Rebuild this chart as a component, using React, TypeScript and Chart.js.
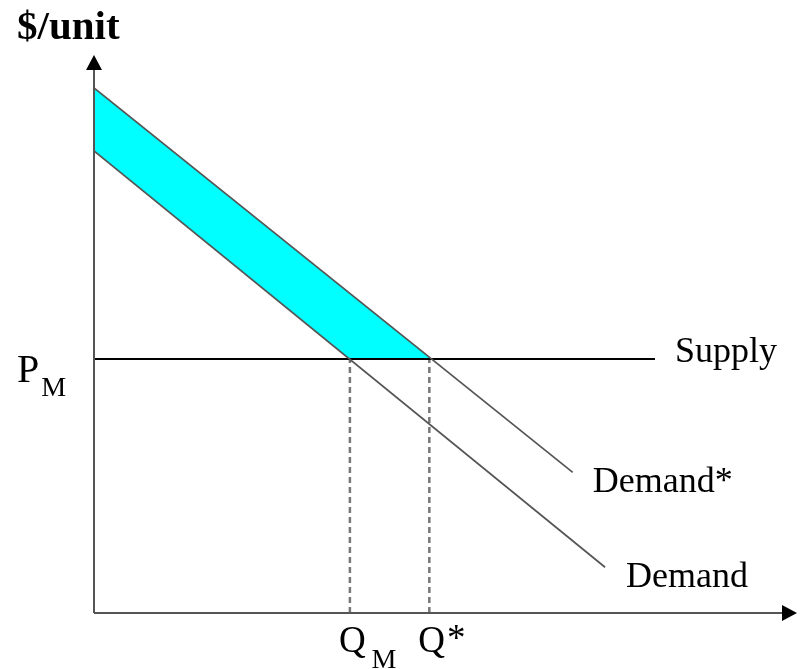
import React, { useEffect, useRef } from "react";
import { Chart, registerables } from "chart.js";

Chart.register(...registerables);

// Quantities (x) and prices (y) in chart units
const demandStarX = [0, 68.1];
const demandStarY = [94.1, 25.2];
const demandX = [0, 72.7];
const demandY = [82.8, 8.2];
const supplyX = [0, 79.8];
const supplyPrice = 45.5;
const qM = 36.4;
const qStar = 47.7;
const axisMaxX = 100;
const axisMaxY = 100;

const yAxisTitle = "$/unit";
const lineLabels = ["Supply", "Demand*", "Demand"];
const priceLabel = ["P", "M"];
const qLabels = [["Q", "M"], ["Q", "*"]];

const SERIF = '"Liberation Serif", "Times New Roman", serif';

const toPts = (xs: number[], ys: number[]) => xs.map((x, i) => ({ x, y: ys[i] }));

export default function App() {
  const ref = useRef<HTMLCanvasElement | null>(null);
  useEffect(() => {
    if (!ref.current) return;
    const drawPlugin = {
      id: "econ",
      beforeDatasetsDraw(chart: any) {
        const ctx = chart.ctx;
        const xs = chart.scales.x;
        const ys = chart.scales.y;
        const px = (v: number) => xs.getPixelForValue(v);
        const py = (v: number) => ys.getPixelForValue(v);
        // cyan area between demand curves above supply price
        const slopeS = (demandStarY[1] - demandStarY[0]) / (demandStarX[1] - demandStarX[0]);
        const yStarAtQ = demandStarY[0] + slopeS * qStar;
        ctx.save();
        ctx.fillStyle = "#00FFFF";
        ctx.beginPath();
        ctx.moveTo(px(0), py(demandStarY[0]));
        ctx.lineTo(px(qStar), py(yStarAtQ));
        ctx.lineTo(px(qStar), py(supplyPrice));
        ctx.lineTo(px(qM), py(supplyPrice));
        ctx.lineTo(px(0), py(demandY[0]));
        ctx.closePath();
        ctx.fill();
        ctx.restore();
      },
      afterDatasetsDraw(chart: any) {
        const ctx = chart.ctx;
        const xs = chart.scales.x;
        const ys = chart.scales.y;
        const px = (v: number) => xs.getPixelForValue(v);
        const py = (v: number) => ys.getPixelForValue(v);
        const x0 = px(0), y0 = py(0), xTop = px(axisMaxX), yTop = py(axisMaxY);
        ctx.save();
        // axes
        ctx.strokeStyle = "#555";
        ctx.lineWidth = 2;
        ctx.beginPath();
        ctx.moveTo(x0, y0);
        ctx.lineTo(x0, yTop + 12);
        ctx.moveTo(x0, y0);
        ctx.lineTo(xTop - 12, y0);
        ctx.stroke();
        ctx.fillStyle = "#000";
        ctx.beginPath();
        ctx.moveTo(x0, yTop);
        ctx.lineTo(x0 - 8, yTop + 15);
        ctx.lineTo(x0 + 8, yTop + 15);
        ctx.closePath();
        ctx.fill();
        ctx.beginPath();
        ctx.moveTo(xTop, y0);
        ctx.lineTo(xTop - 15, y0 - 8);
        ctx.lineTo(xTop - 15, y0 + 8);
        ctx.closePath();
        ctx.fill();

        // texts
        ctx.fillStyle = "#000";
        ctx.textBaseline = "alphabetic";
        ctx.textAlign = "left";
        ctx.font = `bold 41px ${SERIF}`;
        ctx.fillText(yAxisTitle, 17, 39);

        ctx.font = `36px ${SERIF}`;
        ctx.fillText(lineLabels[0], px(supplyX[1]) + 20, py(supplyPrice) + 3);
        ctx.fillText(lineLabels[1], px(demandStarX[1]) + 20, py(demandStarY[1]) + 20);
        ctx.fillText(lineLabels[2], px(demandX[1]) + 21, py(demandY[1]) + 20);

        // P_M
        ctx.font = `40px ${SERIF}`;
        ctx.fillText(priceLabel[0], 17, py(supplyPrice) + 23);
        const pw = ctx.measureText(priceLabel[0]).width;
        ctx.font = `28px ${SERIF}`;
        ctx.fillText(priceLabel[1], 17 + pw + 2, py(supplyPrice) + 37);

        // Q labels
        const qs = [qM, qStar];
        qLabels.forEach((lab, i) => {
          const lx = px(qs[i]) - 11;
          ctx.font = `37px ${SERIF}`;
          ctx.fillText(lab[0], lx, y0 + 39);
          const qw = ctx.measureText(lab[0]).width;
          if (lab[1] === "*") {
            ctx.fillText(lab[1], lx + qw + 2, y0 + 37);
          } else {
            ctx.font = `28px ${SERIF}`;
            ctx.fillText(lab[1], lx + qw + 6, y0 + 55);
          }
        });
        ctx.restore();
      },
    };

    const chart = new Chart(ref.current, {
      type: "scatter",
      data: {
        datasets: [
          {
            data: toPts(demandStarX, demandStarY),
            showLine: true,
            borderColor: "#555",
            borderWidth: 1.7,
            pointRadius: 0,
          },
          {
            data: toPts(demandX, demandY),
            showLine: true,
            borderColor: "#555",
            borderWidth: 1.7,
            pointRadius: 0,
          },
          {
            data: toPts(supplyX, [supplyPrice, supplyPrice]),
            showLine: true,
            borderColor: "#000",
            borderWidth: 2,
            pointRadius: 0,
          },
          {
            data: [{ x: qM, y: 0 }, { x: qM, y: supplyPrice }],
            showLine: true,
            borderColor: "#777",
            borderWidth: 2.5,
            borderDash: [6, 4],
            pointRadius: 0,
          },
          {
            data: [{ x: qStar, y: 0 }, { x: qStar, y: supplyPrice }],
            showLine: true,
            borderColor: "#777",
            borderWidth: 2.5,
            borderDash: [6, 4],
            pointRadius: 0,
          },
        ],
      },
      options: {
        responsive: false,
        animation: false,
        devicePixelRatio: 1,
        layout: { padding: { left: 94, right: 4, top: 55, bottom: 56 } },
        plugins: { legend: { display: false }, tooltip: { enabled: false }, title: { display: false } },
        scales: {
          x: { type: "linear", min: 0, max: axisMaxX, display: false },
          y: { type: "linear", min: 0, max: axisMaxY, display: false },
        },
      },
      plugins: [drawPlugin],
    } as any);
    return () => chart.destroy();
  }, []);
  return (
    <div style={{ position: "absolute", left: 0, top: 0, width: 801, height: 669, background: "#fff" }}>
      <canvas ref={ref} width={801} height={669} style={{ display: "block" }} />
    </div>
  );
}
